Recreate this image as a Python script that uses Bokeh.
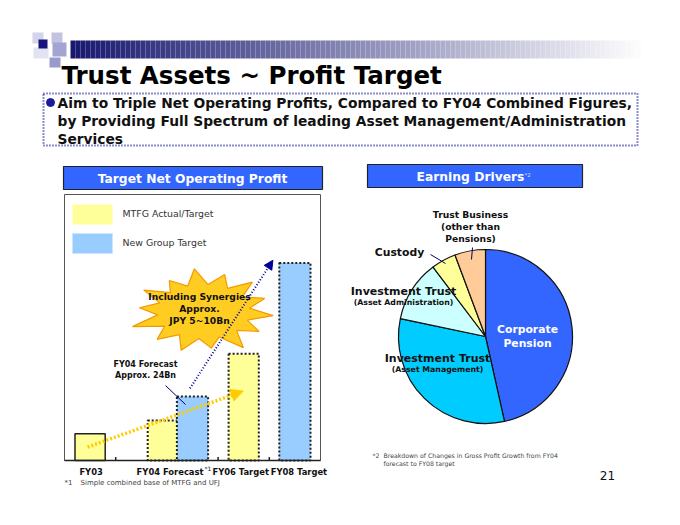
import numpy as np
from bokeh.plotting import figure
from bokeh.models import Range1d, Arrow, NormalHead
from bokeh.embed import file_html
from bokeh.resources import INLINE
from bokeh.core.properties import value

# ---------------- data ----------------
bar_categories = ["FY03", "FY04 Forecast", "FY06 Target", "FY08 Target"]
bar_slots = [0, 2, 3, 4]
mtfg_values = [10, 15, 40, None]          # JPY Bn, MTFG actual/target
new_group_values = [None, 24, None, 74]   # JPY Bn, new group target
legend_labels = ["MTFG Actual/Target", "New Group Target"]

driver_labels = ["Corporate Pension", "Investment Trust (Asset Management)",
                 "Investment Trust (Asset Administration)", "Custody",
                 "Trust Business (other than Pensions)"]
driver_shares = [46.5, 31.8, 11.4, 4.6, 5.7]
driver_colors = ["#3366FF", "#00CCFF", "#CCFFFF", "#FFFF99", "#FFCC99"]

FONT = "DejaVu Sans"
W, H = 680, 525

p = figure(width=W, height=H, x_range=Range1d(0, W), y_range=Range1d(H, 0),
           output_backend="svg", toolbar_location=None, title=None,
           x_axis_type=None, y_axis_type=None, min_border=0)
p.grid.visible = False
p.outline_line_color = None
p.background_fill_color = "white"
p.border_fill_color = "white"

# bar chart scales (extra ranges mapped onto the left panel)
base_px, k = 460.0, 2.67
slot0_px, slot_w = 89.6, 51.2
p.extra_x_ranges["bx"] = Range1d(-slot0_px / slot_w, (W - slot0_px) / slot_w)
p.extra_y_ranges["by"] = Range1d((base_px - H) / k, base_px / k)
# pie scales
pcx, pcy, pr = 485.0, 336.0, 87.0
p.extra_x_ranges["px"] = Range1d(-pcx / pr, (W - pcx) / pr)
p.extra_y_ranges["py"] = Range1d(-(H - pcy) / pr, pcy / pr)

# ---------------- header decoration ----------------
c0 = np.array([24, 24, 112]); c1 = np.array([255, 255, 255])
xs = np.arange(70, 640, 5)
cols = []
for x in xs:
    t = (x - 70) / 570.0
    c = (c0 + (c1 - c0) * t).astype(int)
    cols.append("#%02x%02x%02x" % tuple(c))
p.quad(left=xs, right=xs + 5, top=40, bottom=58, fill_color=cols, line_color=None)
sq = dict(l=[32, 51, 33, 52, 49, 38], r=[43, 62, 48, 66, 60, 47],
          t=[32, 32, 47, 42, 57, 39], b=[43, 43, 58, 56, 67, 48],
          c=["#D4D4EA", "#C4C4E2", "#E2E2F1", "#A4A4D2", "#9A9ACB", "#14147A"])
p.quad(left=sq["l"], right=sq["r"], top=sq["t"], bottom=sq["b"],
       fill_color=sq["c"], line_color=None)

p.text(x=[61], y=[75], text=["Trust Assets ~ Profit Target"], text_font=value(FONT),
       text_font_style="bold", text_font_size="24.5px", text_color="black",
       text_baseline="middle", text_align="left")

# dotted message box
p.quad(left=[43], right=[637], top=[93], bottom=[145], fill_color=None,
       line_color="#1a1a9a", line_width=2, line_dash="1 2")
p.scatter(x=[50], y=[102], size=8, color="#1a1a9a")
bullet = ["Aim to Triple Net Operating Profits, Compared to FY04 Combined Figures,",
          "by Providing Full Spectrum of leading Asset Management/Administration",
          "Services"]
p.text(x=[57, 57, 57], y=[102, 120, 138], text=bullet, text_font=value(FONT),
       text_font_style="bold", text_font_size="13.8px", text_color="#111111",
       text_baseline="middle")

# ---------------- left panel ----------------
p.quad(left=[63], right=[322], top=[166], bottom=[189], fill_color="#3366FF",
       line_color="#222222", line_width=1.2)
p.text(x=[192], y=[178], text=["Target Net Operating Profit"], text_font=value(FONT),
       text_font_style="bold", text_font_size="12.3px", text_color="white",
       text_align="center", text_baseline="middle")
p.quad(left=[64], right=[320], top=[194], bottom=[460], fill_color=None,
       line_color="#555555", line_width=1)

# legend
p.quad(left=[72, 72], right=[112, 112], top=[204, 233], bottom=[224, 253],
       fill_color=["#FFFF99", "#99CCFF"], line_color=["#FFFFCC", "#CCE6FF"])
p.text(x=[122, 122], y=[213, 242], text=legend_labels, text_font=value(FONT),
       text_font_size="9.4px", text_color="#333333", text_baseline="middle")

# category boundary ticks
tick_x = [0.5, 1.5, 2.5, 3.5]
p.segment(x0=tick_x, x1=tick_x, y0=[0] * 4, y1=[1.3] * 4, x_range_name="bx",
          y_range_name="by", line_color="#222222", line_width=1.5)

bw = 0.59
# bars: MTFG
m_x, m_top = [], []
for s, v, c in zip(bar_slots, mtfg_values, bar_categories):
    if v is None:
        continue
    off = -0.58 if c == "FY04 Forecast" else 0.0
    m_x.append(s + off); m_top.append(v)
p.vbar(x=m_x[:1], top=m_top[:1], width=bw, x_range_name="bx", y_range_name="by",
       fill_color="#FFFF99", line_color="#222222", line_width=1.5)
p.vbar(x=m_x[1:], top=m_top[1:], width=bw, x_range_name="bx", y_range_name="by",
       fill_color="#FFFF99", line_color="#222222", line_width=2, line_dash="2 2")
# bars: new group
g_x = [s for s, v in zip(bar_slots, new_group_values) if v is not None]
g_top = [v for v in new_group_values if v is not None]
p.vbar(x=g_x, top=g_top, width=bw + 0.02, x_range_name="bx", y_range_name="by",
       fill_color="#99CCFF", line_color="#222222", line_width=2, line_dash="2 2")

# baseline
p.segment(x0=[-0.5], x1=[4.5], y0=[0], y1=[0], x_range_name="bx", y_range_name="by",
          line_color="#222222", line_width=1.5)

# category labels
lab_off = {"FY03": 1, "FY04 Forecast": -19, "FY06 Target": -3, "FY08 Target": 4}
for s, c in zip(bar_slots, bar_categories):
    if c == "FY04 Forecast":
        p.text(x=[s], y=[-4.2], text=[c], x_offset=11, x_range_name="bx", y_range_name="by",
               text_font=value(FONT), text_font_style="bold", text_font_size="8.4px",
               text_color="#111111", text_align="right", text_baseline="middle")
        p.text(x=[s], y=[-3.0], text=["*1"], x_offset=12, x_range_name="bx", y_range_name="by",
               text_font=value(FONT), text_font_size="6px",
               text_color="#111111", text_align="left", text_baseline="middle")
    else:
        p.text(x=[s], y=[-4.2], text=[c], x_offset=lab_off[c], x_range_name="bx",
               y_range_name="by", text_font=value(FONT), text_font_style="bold",
               text_font_size="8.4px", text_color="#111111", text_align="center",
               text_baseline="middle")
p.text(x=[64, 80], y=[482, 482], text=["*1", "Simple combined base of MTFG and UFJ"],
       text_font=value(FONT), text_font_size="7px", text_color="#444444",
       text_baseline="middle")

# growth arrows (bar coordinates)
p.add_layout(Arrow(x_start=-0.05, y_start=mtfg_values[0] / 2, x_end=2.99, y_end=26,
                   x_range_name="bx", y_range_name="by", line_color="#FFCC00",
                   line_width=3.5, line_dash="2 2",
                   end=NormalHead(size=12, fill_color="#FFCC00", line_color="#FFCC00")))
p.add_layout(Arrow(x_start=1.95, y_start=27, x_end=3.57, y_end=75,
                   x_range_name="bx", y_range_name="by", line_color="#000099",
                   line_width=2, line_dash="1 2",
                   end=NormalHead(size=9, fill_color="#000099", line_color="#000099")))

# FY04 callout
p.segment(x0=[165], y0=[385], x1=[185], y1=[404], line_color="#000066", line_width=1)
p.text(x=[145, 145], y=[364, 375], text=["FY04 Forecast", "Approx. 24Bn"],
       text_font=value(FONT), text_font_style="bold", text_font_size="8px",
       text_color="#111111", text_align="center", text_baseline="middle")

# starburst
n = 28
ang = np.linspace(0, 2 * np.pi, n, endpoint=False) + 0.1
rad = np.where(np.arange(n) % 2 == 0, 1.0, 0.66)
jit = np.array([1.0, 1, 0.93, 1, 1.05, 1, 0.9, 1, 1.0, 1, 0.95, 1, 1.08, 1,
                0.92, 1, 1.0, 1, 0.9, 1, 1.05, 1, 0.95, 1, 1.0, 1, 0.93, 1])
sx = 203 + 70 * rad * jit * np.cos(ang)
sy = 311 + 41 * rad * jit * np.sin(ang)
p.patch(x=sx, y=sy, fill_color="#FFCC22", line_color="#F29A00", line_width=1.2)
p.text(x=[199, 199, 199], y=[296, 308, 320],
       text=["Including Synergies", "Approx.", "JPY 5~10Bn"], text_font=value(FONT),
       text_font_style="bold", text_font_size="9.2px", text_color="#111111",
       text_align="center", text_baseline="middle")

# ---------------- right panel ----------------
p.quad(left=[367], right=[582], top=[164], bottom=[187], fill_color="#3366FF",
       line_color="#222222", line_width=1.2)
p.text(x=[470], y=[176], text=["Earning Drivers"], text_font=value(FONT),
       text_font_style="bold", text_font_size="12.3px", text_color="white",
       text_align="center", text_baseline="middle")
p.text(x=[524], y=[174], text=["*2"], text_font=value(FONT), text_font_size="5.5px",
       text_color="#DDDDFF", text_align="left", text_baseline="middle")

tot = float(sum(driver_shares))
cum = np.cumsum([0] + driver_shares) / tot
start = np.pi / 2 - cum[1:] * 2 * np.pi
end = np.pi / 2 - cum[:-1] * 2 * np.pi
p.wedge(x=0, y=0, radius=1, start_angle=start, end_angle=end, direction="anticlock",
        x_range_name="px", y_range_name="py", fill_color=driver_colors,
        line_color="#111111", line_width=1.2)

# pie labels
p.segment(x0=[430, 472], y0=[254, 247], x1=[445, 471], y1=[263, 259],
          line_color="#000066", line_width=1)
p.text(x=[470, 470, 470], y=[214, 226, 238], text=["Trust Business", "(other than", "Pensions)"],
       text_font=value(FONT), text_font_style="bold", text_font_size="9.2px",
       text_color="#111111", text_align="center", text_baseline="middle")
p.text(x=[399], y=[252], text=["Custody"], text_font=value(FONT), text_font_style="bold",
       text_font_size="10.8px", text_color="#111111", text_align="center", text_baseline="middle")
p.text(x=[403, 437], y=[291, 358], text=["Investment Trust", "Investment Trust"],
       text_font=value(FONT), text_font_style="bold", text_font_size="11px",
       text_color="#111111", text_align="center", text_baseline="middle")
p.text(x=[403, 437], y=[302, 369], text=["(Asset Administration)", "(Asset Management)"],
       text_font=value(FONT), text_font_style="bold", text_font_size="7.8px",
       text_color="#111111", text_align="center", text_baseline="middle")
p.text(x=[527, 527], y=[329, 343], text=["Corporate", "Pension"], text_font=value(FONT),
       text_font_style="bold", text_font_size="10.8px", text_color="white",
       text_align="center", text_baseline="middle")

p.text(x=[372, 383, 383], y=[455, 455, 463],
       text=["*2", "Breakdown of Changes in Gross Profit Growth from FY04", "forecast to FY08 target"],
       text_font=value(FONT), text_font_size="6.2px", text_color="#444444",
       text_baseline="middle")
p.text(x=[607], y=[475], text=["21"], text_font=value(FONT), text_font_size="12px",
       text_color="#111111", text_align="center", text_baseline="middle")

open("out.html", "w").write(file_html(p, INLINE))
